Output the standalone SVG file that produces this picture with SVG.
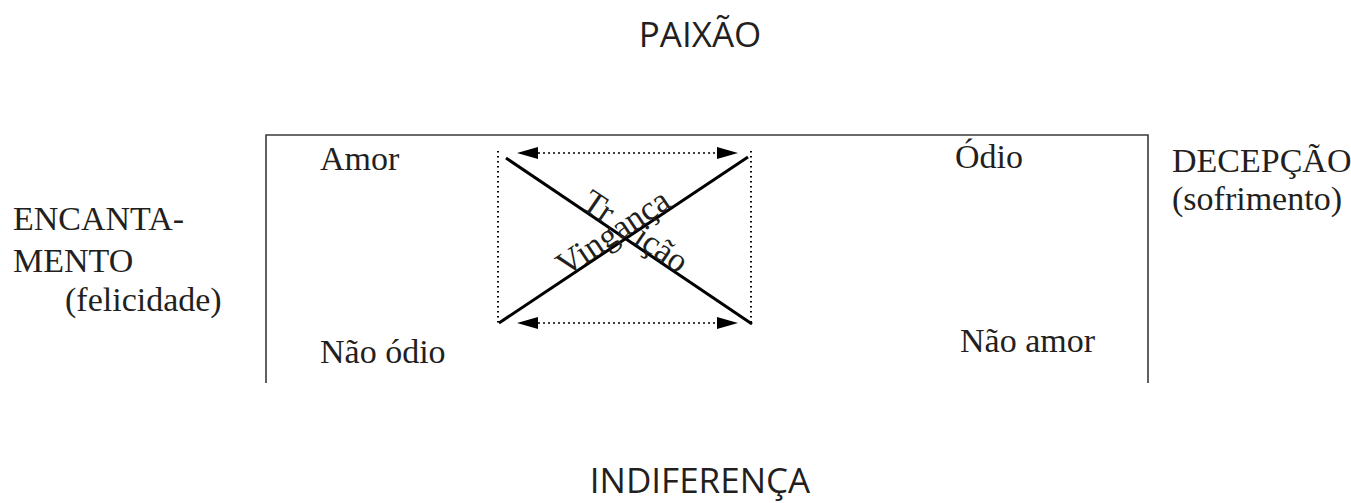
<svg xmlns="http://www.w3.org/2000/svg" width="1351" height="503" viewBox="0 0 1351 503">
<style>
.serif{font-family:"Liberation Serif","Times New Roman",serif;font-size:34px;fill:#231f20}
.sans{font-family:"Open Sans","Noto Sans",sans-serif;font-size:35px;fill:#231f20;text-anchor:middle}
.box{fill:none;stroke:#3a3a3a;stroke-width:1.6}
.cross{stroke:#000;stroke-width:3;fill:none}
.dotv{stroke:#000;stroke-width:2;stroke-dasharray:1.5 3.5;fill:none}
.doth{stroke:#000;stroke-width:1.6;stroke-dasharray:2 3;fill:none}
</style>
<defs>
<marker id="ah" markerUnits="userSpaceOnUse" markerWidth="21" markerHeight="12" refX="0" refY="6" orient="auto-start-reverse">
<path d="M0,0 L21,6 L0,12 z" fill="#000"/>
</marker>
</defs>
<rect width="1351" height="503" fill="#fff"/>
<g id="frame">
<path class="box" d="M266,383 V135 H1148 V383"/>
</g>
<g id="paixao"><text class="sans" x="700" y="47">PAIXÃO</text></g>
<g id="indiferenca"><text class="sans" x="700" y="493">INDIFERENÇA</text></g>
<g id="encantamento">
<text class="serif" x="13" y="230">ENCANTA-</text>
<text class="serif" x="13" y="272">MENTO</text>
<text class="serif" x="65" y="311">(felicidade)</text>
</g>
<g id="decepcao">
<text class="serif" x="1172" y="172">DECEPÇÃO</text>
<text class="serif" x="1172" y="210">(sofrimento)</text>
</g>
<g id="amor"><text class="serif" x="320" y="170">Amor</text></g>
<g id="odio"><text class="serif" x="955" y="168">Ódio</text></g>
<g id="nao-odio"><text class="serif" x="320" y="363">Não ódio</text></g>
<g id="nao-amor"><text class="serif" x="960" y="352">Não amor</text></g>
<g id="connectors">
<line class="cross" x1="506" y1="158" x2="752" y2="324"/>
<line class="cross" x1="499" y1="323" x2="748" y2="157"/>
<line class="dotv" x1="498" y1="151" x2="498" y2="324"/>
<line class="dotv" x1="751" y1="151" x2="751" y2="324"/>
<line class="doth" x1="538" y1="153" x2="717" y2="153" marker-start="url(#ah)" marker-end="url(#ah)"/>
<line class="doth" x1="538" y1="323" x2="717" y2="323" marker-start="url(#ah)" marker-end="url(#ah)"/>
</g>
<g id="vinganca" transform="translate(625,240) rotate(-33.8)">
<text class="serif" x="-70" y="-2">Vingança</text>
</g>
<g id="traicao" transform="translate(625,240) rotate(34)">
<text class="serif" x="-56" y="-2">Tr</text>
<text class="serif" x="7" y="-2">ição</text>
</g>
</svg>
